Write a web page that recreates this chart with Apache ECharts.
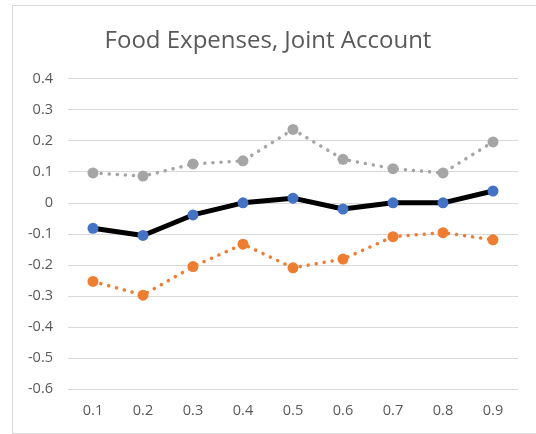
<!DOCTYPE html>
<html><head><meta charset="utf-8">
<script src="https://cdn.jsdelivr.net/npm/echarts@6/dist/echarts.min.js"></script>
<style>html,body{margin:0;padding:0;background:#fff}#c{width:536px;height:434px}
#frame{position:absolute;left:12px;top:5px;width:540px;height:427px;border:1px solid #d9d9d9;pointer-events:none}</style>
</head><body><div id="c"></div><div id="frame"></div>
<script>
const categories = ['0.1','0.2','0.3','0.4','0.5','0.6','0.7','0.8','0.9'];
const upperValues = [0.096, 0.086, 0.125, 0.135, 0.236, 0.140, 0.110, 0.096, 0.196];
const midValues = [-0.082, -0.105, -0.039, 0.000, 0.015, -0.020, 0.000, 0.000, 0.038];
const lowerValues = [-0.253, -0.297, -0.205, -0.133, -0.209, -0.181, -0.109, -0.096, -0.119];
const titleText = 'Food Expenses, Joint Account';

const font = '"Open Sans", "Noto Sans", sans-serif';
const chart = echarts.init(document.getElementById('c'));
chart.setOption({
  animation: false,
  title: { text: titleText, left: 'center', top: 24, textStyle: { fontFamily: font, fontSize: 24, fontWeight: 'normal', color: '#595959' } },
  grid: { left: 68, right: 18, top: 78.5, bottom: 44.7, containLabel: false },
  xAxis: { type: 'category', data: categories, boundaryGap: true,
    axisLine: { show: false }, axisTick: { show: false },
    axisLabel: { fontFamily: font, fontSize: 14.5, color: '#595959', margin: 14 } },
  yAxis: { type: 'value', min: -0.6, max: 0.4, interval: 0.1,
    axisLine: { show: false }, axisTick: { show: false },
    splitLine: { lineStyle: { color: '#d9d9d9', width: 1 } },
    axisLabel: { fontFamily: font, fontSize: 14.5, color: '#595959', margin: 15,
      formatter: v => { const r = Math.round(v*10)/10; return r === 0 ? '0' : String(r); } } },
  series: [
    { type: 'line', data: upperValues, symbol: 'circle', symbolSize: 11, z: 2,
      itemStyle: { color: '#a5a5a5' },
      lineStyle: { color: '#a5a5a5', width: 3.5, type: [0.1, 8], cap: 'round' } },
    { type: 'line', data: lowerValues, symbol: 'circle', symbolSize: 11, z: 2,
      itemStyle: { color: '#ed7d31' },
      lineStyle: { color: '#ed7d31', width: 3.5, type: [0.1, 8], cap: 'round' } },
    { type: 'line', data: midValues, symbol: 'circle', symbolSize: 11, z: 3,
      itemStyle: { color: '#4472c4' },
      lineStyle: { color: '#000000', width: 5 } }
  ]
});
</script></body></html>
